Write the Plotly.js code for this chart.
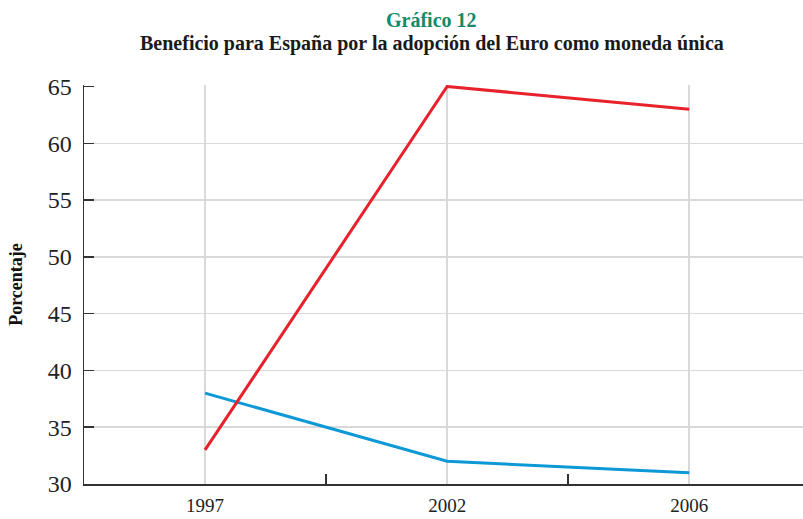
<!DOCTYPE html>
<html><head><meta charset="utf-8">
<script src="https://cdn.plot.ly/plotly-3.0.1.min.js"></script>
<style>html,body{margin:0;padding:0;background:#fff}</style>
</head><body>
<div id="chart" style="width:803px;height:519px"></div>
<script>
const years = ['1997', '2002', '2006'];
const redSeries = [33, 65, 63];
const blueSeries = [38, 32, 31];
const yTicks = [30, 35, 40, 45, 50, 55, 60, 65];
const yGrid = [35, 40, 45, 50, 55, 60];
const chartTitle = 'Gráfico 12';
const chartSubtitle = 'Beneficio para España por la adopción del Euro como moneda única';

const serif = 'Liberation Serif, Times New Roman, serif';
const axisColor = '#333333';

const traces = [
  {x: years, y: blueSeries, type: 'scatter', mode: 'lines', xaxis: 'x', yaxis: 'y',
   line: {color: '#0d98d6', width: 3}, hoverinfo: 'skip'},
  {x: years, y: redSeries, type: 'scatter', mode: 'lines', xaxis: 'x2', yaxis: 'y2',
   line: {color: '#e8212b', width: 3}, hoverinfo: 'skip'}
];

const xr = [-0.5, 2.47];
const yr = [30, 65.13];

const layout = {
  width: 803, height: 519,
  margin: {l: 84, r: 0, t: 84.5, b: 35},
  paper_bgcolor: '#fff', plot_bgcolor: '#fff',
  showlegend: false,
  annotations: [
    {text: '<b>' + chartTitle + '</b>', xref: 'paper', yref: 'paper', x: 0.484, y: 1.164,
     xanchor: 'center', yanchor: 'middle', showarrow: false,
     font: {family: serif, size: 20, color: '#138a68'}},
    {text: '<b>' + chartSubtitle + '</b>', xref: 'paper', yref: 'paper', x: 0.484, y: 1.104,
     xanchor: 'center', yanchor: 'middle', showarrow: false,
     font: {family: serif, size: 20, color: '#1a1a1a'}}
  ],
  xaxis: {
    type: 'category', categoryarray: years, range: xr, fixedrange: true,
    showgrid: true, gridcolor: '#d9d9d9', gridwidth: 1.5,
    ticks: '', showline: true, linecolor: axisColor, linewidth: 1.5,
    tickfont: {family: serif, size: 19, color: '#222'},
    ticklabelstandoff: 4, zeroline: false
  },
  xaxis2: {
    type: 'category', categoryarray: years, range: xr, overlaying: 'x', anchor: 'y2',
    tickson: 'boundaries', ticks: 'inside', ticklen: 10, tickwidth: 1.5, tickcolor: axisColor,
    showgrid: false, showticklabels: false, showline: false, zeroline: false, fixedrange: true
  },
  yaxis: {
    range: yr, tickvals: yTicks, ticktext: yTicks.map(String), fixedrange: true,
    ticks: 'inside', ticklen: 10, tickwidth: 1.5, tickcolor: axisColor,
    showgrid: false, zeroline: false,
    showline: true, linecolor: axisColor, linewidth: 1.5,
    tickfont: {family: serif, size: 24, color: '#222'},
    ticklabelstandoff: 6,
    title: {text: '<b>Porcentaje</b>', font: {family: serif, size: 18, color: '#111'}, standoff: 20}
  },
  yaxis2: {
    range: yr, tickvals: yGrid, overlaying: 'y', anchor: 'x2', fixedrange: true,
    showgrid: true, gridcolor: '#d9d9d9', gridwidth: 1.5,
    ticks: '', showticklabels: false, showline: false, zeroline: false
  }
};

Plotly.newPlot('chart', traces, layout, {staticPlot: true, displayModeBar: false});
</script>
</body></html>
